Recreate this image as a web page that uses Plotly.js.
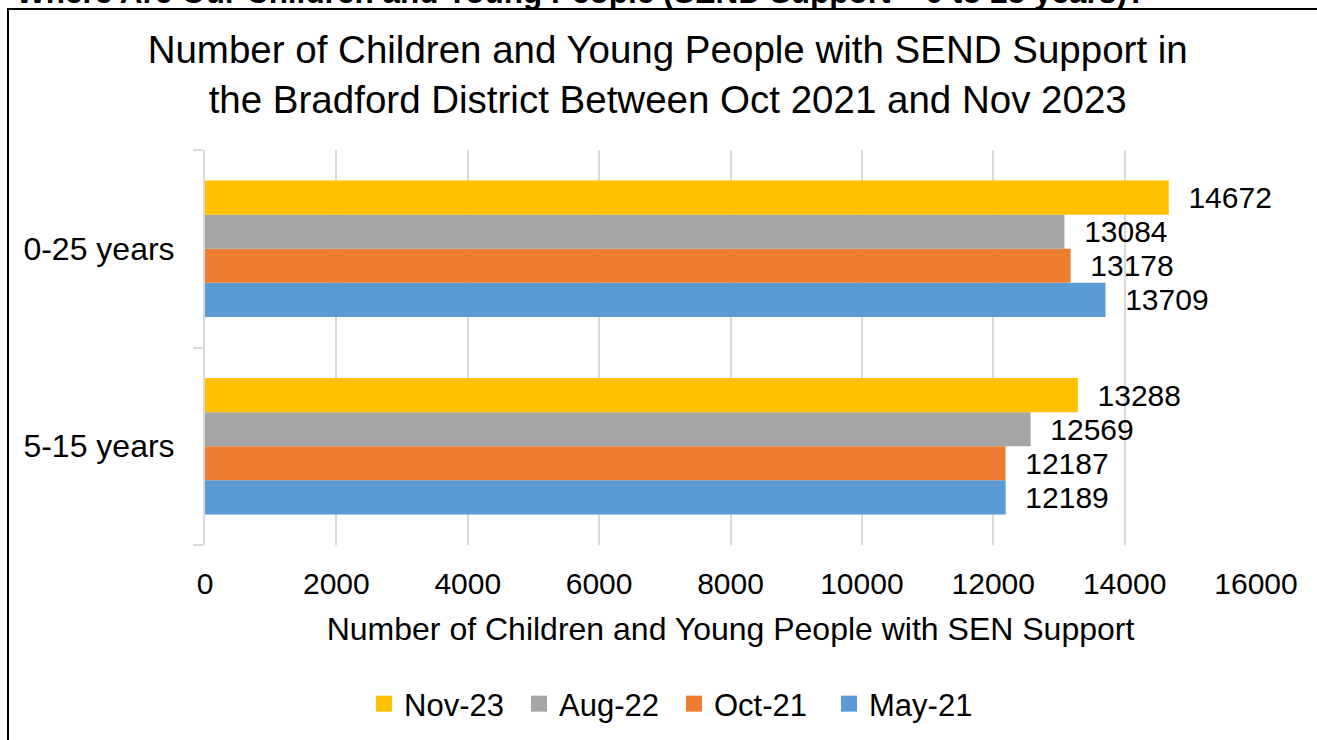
<!DOCTYPE html>
<html>
<head>
<meta charset="utf-8">
<script src="https://cdn.plot.ly/plotly-3.0.1.min.js"></script>
<style>html,body{margin:0;padding:0;background:#fff;}#chart{width:1317px;height:740px;}</style>
</head>
<body>
<div id="chart"></div>
<script>
const categories = ['5-15 years', '0-25 years'];
const seriesNames = ['May-21', 'Oct-21', 'Aug-22', 'Nov-23'];
const may21 = [12189, 13709];
const oct21 = [12187, 13178];
const aug22 = [12569, 13084];
const nov23 = [13288, 14672];
const colors = ['#5B9BD5', '#ED7D31', '#A5A5A5', '#FFC000'];
const xTicks = [0, 2000, 4000, 6000, 8000, 10000, 12000, 14000, 16000];

const FONT = 'Arial, "Liberation Sans", sans-serif';
const values = [may21, oct21, aug22, nov23];

const barTraces = values.map((v, i) => ({
  type: 'bar',
  orientation: 'h',
  name: seriesNames[i],
  legendgroup: seriesNames[i],
  showlegend: false,
  y: categories,
  x: v,
  marker: {color: colors[i]},
  text: v.map(String),
  texttemplate: '\u00a0\u00a0%{text}',
  textposition: 'outside',
  textfont: {family: FONT, size: 30, color: '#000'},
  constraintext: 'none',
  cliponaxis: false,
  hoverinfo: 'x+name'
}));

// legend entries (square keys) for the same series
const legendTraces = seriesNames.map((n, i) => ({
  type: 'scatter',
  mode: 'markers',
  name: n,
  legendgroup: n,
  x: [null],
  y: [null],
  marker: {color: colors[i], symbol: 'square', size: 17},
  hoverinfo: 'skip'
}));

const px2y = p => (545 - p) / 395;
const px2x = p => (p - 205) / 1051;

const layout = {
  width: 1317,
  height: 740,
  margin: {l: 205, r: 61, t: 150, b: 195, autoexpand: false},
  paper_bgcolor: '#fff',
  plot_bgcolor: '#fff',
  font: {family: FONT, color: '#000', size: 30},
  barmode: 'group',
  bargap: 0.31,
  bargroupgap: 0,
  showlegend: true,
  title: {
    text: 'Number of Children and Young People with SEND Support in<br>the Bradford District Between Oct 2021 and Nov 2023',
    font: {family: FONT, size: 38.5, color: '#000'},
    x: 0.507, xanchor: 'center', xref: 'container',
    y: 1 - 63 / 740, yanchor: 'middle', yref: 'container'
  },
  xaxis: {
    range: [0, 16000],
    tickvals: xTicks,
    ticktext: xTicks.map(String),
    showgrid: true,
    gridcolor: '#d9d9d9',
    gridwidth: 2,
    zeroline: false,
    showline: false,
    ticks: '',
    ticklabelstandoff: 18,
    tickfont: {family: FONT, size: 30, color: '#000'},
    title: {
      text: 'Number of Children and Young People with SEN Support',
      font: {family: FONT, size: 32, color: '#000'},
      standoff: 18
    },
    fixedrange: true
  },
  yaxis: {
    type: 'category',
    categoryorder: 'array',
    categoryarray: categories,
    showgrid: false,
    zeroline: false,
    showline: true,
    linecolor: '#d9d9d9',
    linewidth: 2,
    ticks: 'outside',
    tickson: 'boundaries',
    ticklen: 10,
    tickwidth: 2,
    tickcolor: '#d9d9d9',
    ticklabelstandoff: 22,
    tickfont: {family: FONT, size: 32, color: '#000'},
    fixedrange: true
  },
  legend: {
    orientation: 'h',
    traceorder: 'reversed',
    x: px2x(364), xanchor: 'left',
    y: px2y(704), yanchor: 'middle',
    entrywidth: 110,
    font: {family: FONT, size: 31, color: '#000'},
    bgcolor: 'rgba(0,0,0,0)'
  },
  shapes: [{
    type: 'rect', xref: 'paper', yref: 'paper',
    x0: px2x(8), x1: 1.2, y0: -0.7, y1: px2y(9),
    line: {color: '#000', width: 2},
    fillcolor: 'rgba(0,0,0,0)',
    layer: 'below'
  }],
  annotations: [{
    text: '<b>Where Are Our Children and Young People (SEND Support – 0 to 25 years)?</b>',
    xref: 'paper', yref: 'paper',
    x: px2x(14), xanchor: 'left',
    y: px2y(12), yanchor: 'bottom',
    showarrow: false,
    font: {family: FONT, size: 31.5, color: '#000'}
  }]
};

Plotly.newPlot('chart', barTraces.concat(legendTraces), layout, {displayModeBar: false, staticPlot: true});
</script>
</body>
</html>
